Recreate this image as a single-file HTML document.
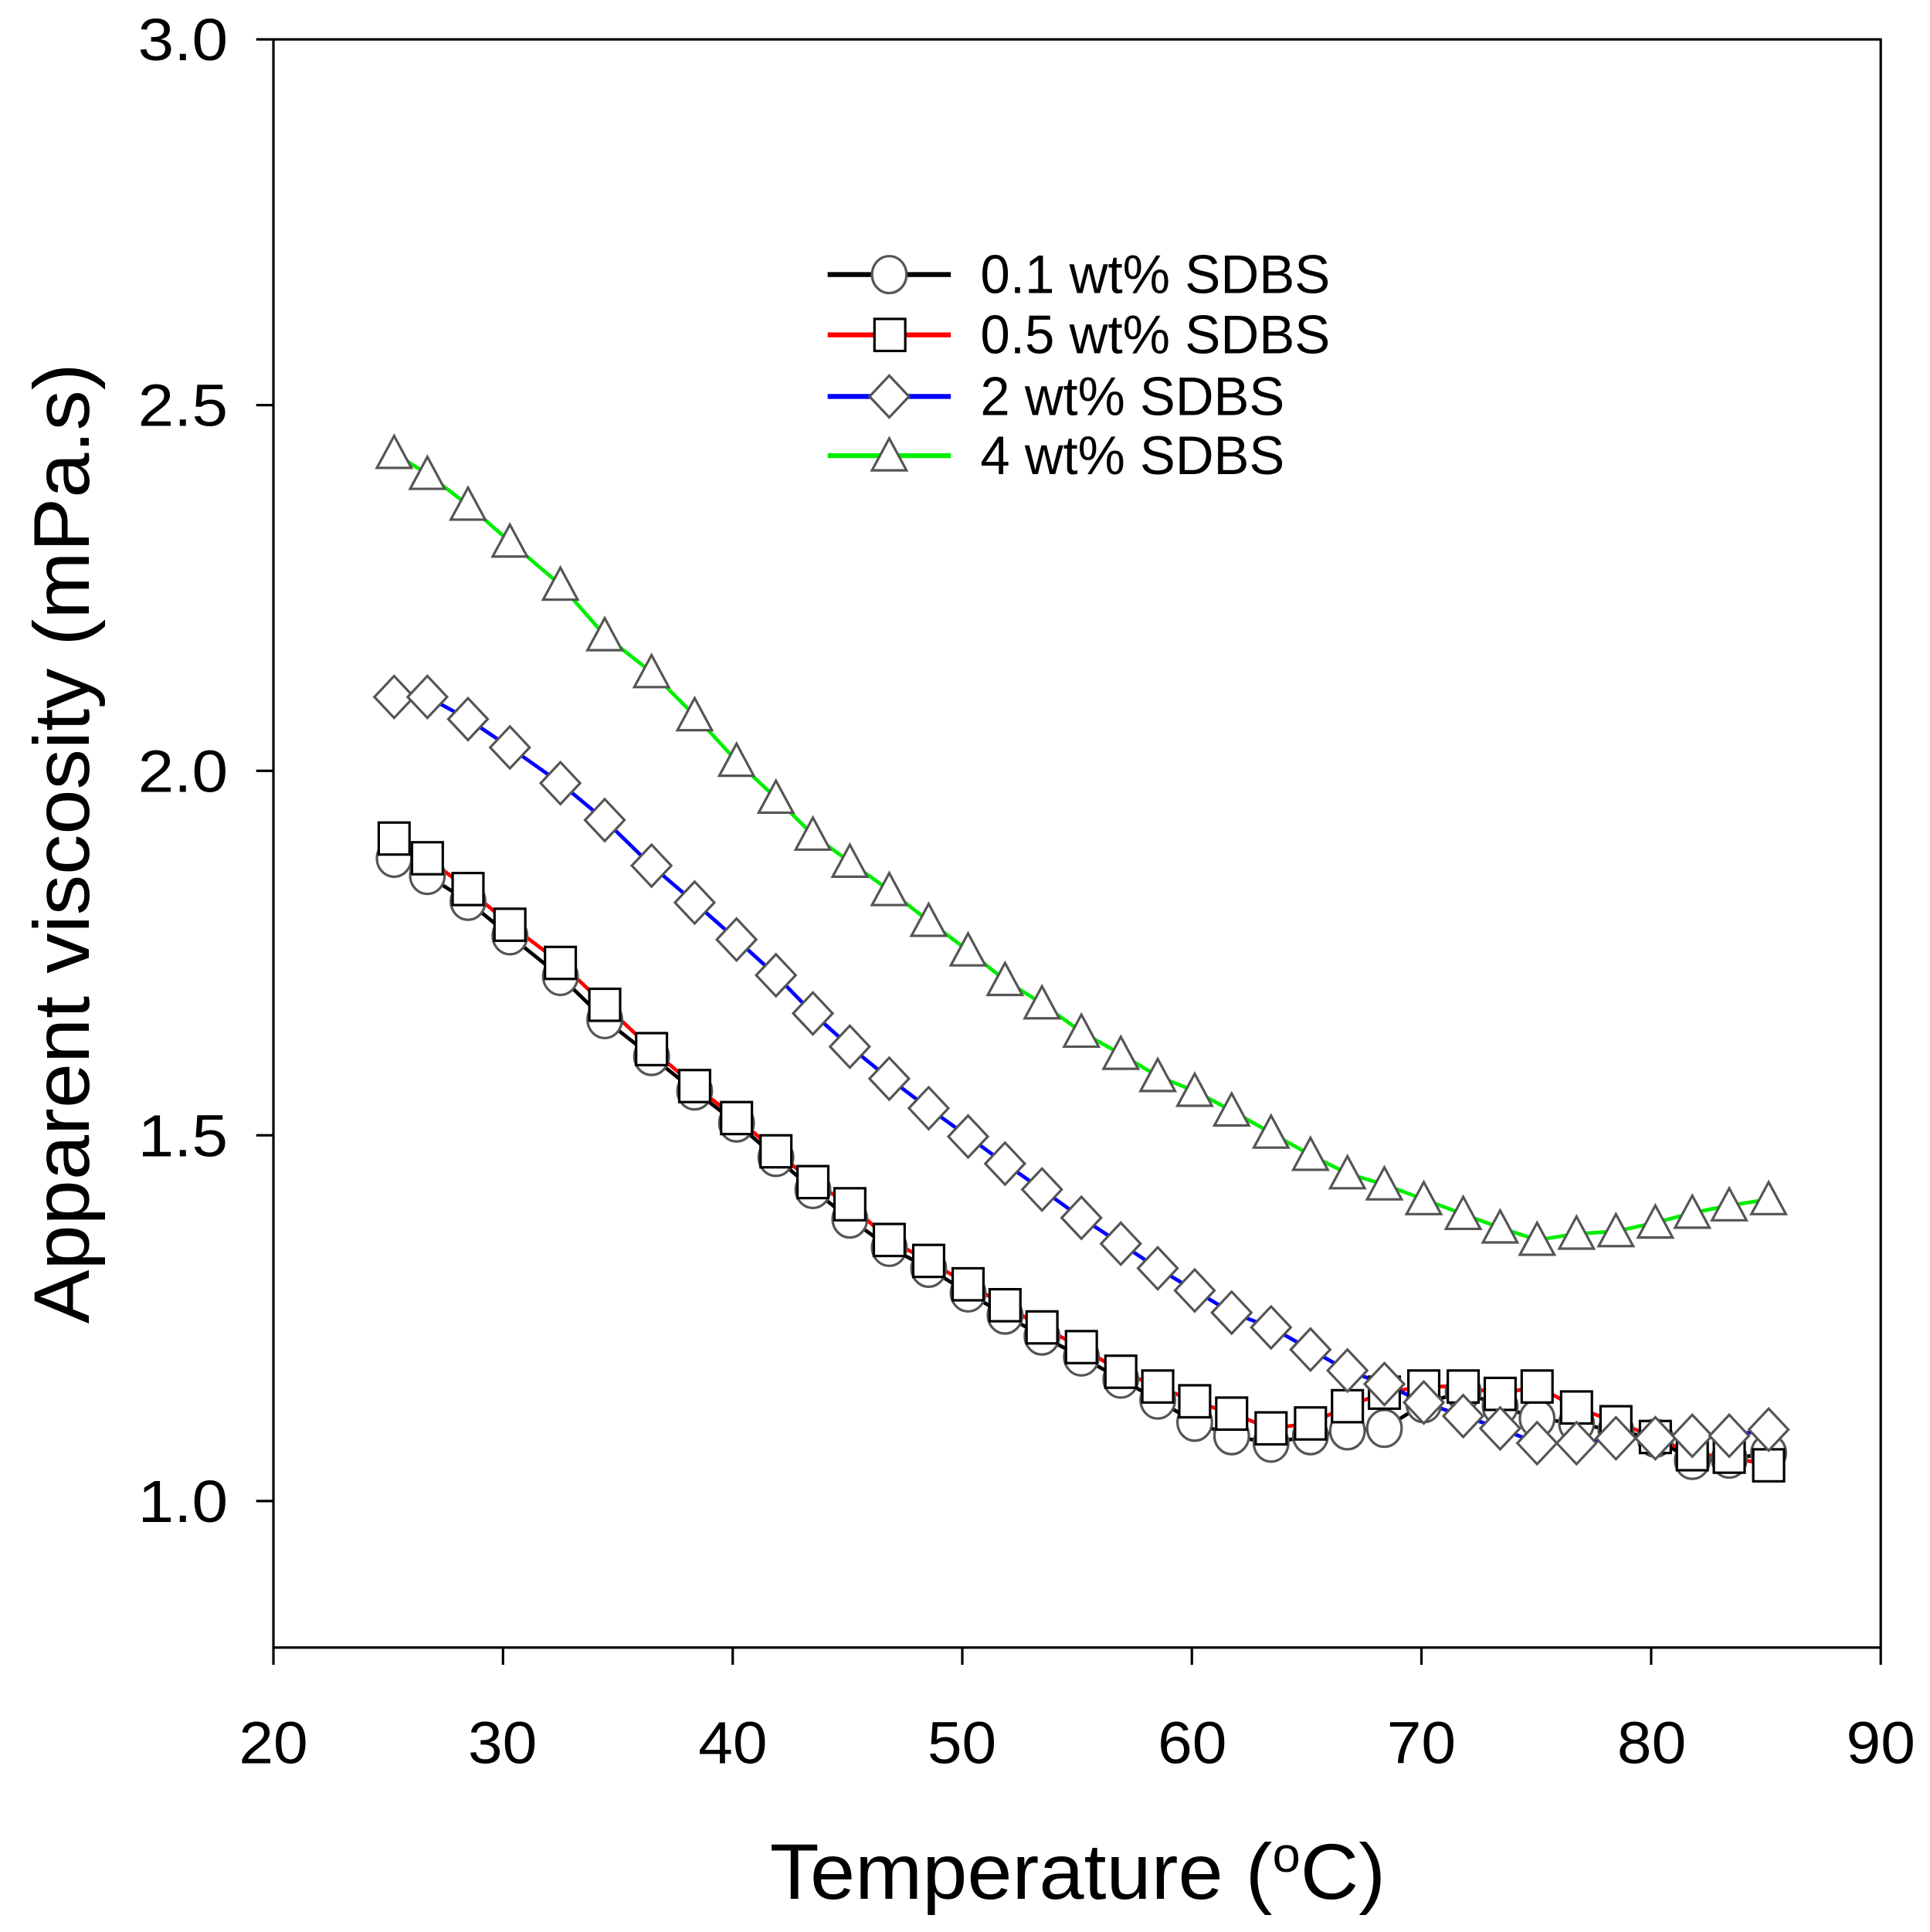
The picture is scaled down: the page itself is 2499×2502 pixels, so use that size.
<!DOCTYPE html>
<html><head><meta charset="utf-8"><style>
html,body{margin:0;padding:0;background:#fff;}
svg{display:block;}
text{font-family:"Liberation Sans",Arial,sans-serif;fill:#000;}
</style></head><body>
<svg id="s" width="2499" height="2502" viewBox="0 0 1567 1569" preserveAspectRatio="none" xmlns="http://www.w3.org/2000/svg">
<rect x="222" y="32" width="1305" height="1306" fill="none" stroke="#000" stroke-width="2"/>
<g stroke="#000" stroke-width="2">
<line x1="222" y1="1338" x2="222" y2="1352"/><line x1="408.4" y1="1338" x2="408.4" y2="1352"/><line x1="594.9" y1="1338" x2="594.9" y2="1352"/><line x1="781.3" y1="1338" x2="781.3" y2="1352"/><line x1="967.7" y1="1338" x2="967.7" y2="1352"/><line x1="1154.1" y1="1338" x2="1154.1" y2="1352"/><line x1="1340.6" y1="1338" x2="1340.6" y2="1352"/><line x1="1527" y1="1338" x2="1527" y2="1352"/>
<line x1="208" y1="32" x2="222" y2="32"/><line x1="208" y1="329" x2="222" y2="329"/><line x1="208" y1="626" x2="222" y2="626"/><line x1="208" y1="922" x2="222" y2="922"/><line x1="208" y1="1219" x2="222" y2="1219"/>
</g>
<g font-size="48" text-anchor="middle">
<text x="222" y="1432" textLength="56" lengthAdjust="spacingAndGlyphs">20</text><text x="408" y="1432" textLength="56" lengthAdjust="spacingAndGlyphs">30</text><text x="595" y="1432" textLength="56" lengthAdjust="spacingAndGlyphs">40</text><text x="781" y="1432" textLength="56" lengthAdjust="spacingAndGlyphs">50</text><text x="968" y="1432" textLength="56" lengthAdjust="spacingAndGlyphs">60</text><text x="1154" y="1432" textLength="56" lengthAdjust="spacingAndGlyphs">70</text><text x="1341" y="1432" textLength="56" lengthAdjust="spacingAndGlyphs">80</text><text x="1527" y="1432" textLength="56" lengthAdjust="spacingAndGlyphs">90</text>
</g>
<g font-size="48">
<text x="112" y="49" textLength="73" lengthAdjust="spacingAndGlyphs">3.0</text><text x="112" y="346" textLength="73" lengthAdjust="spacingAndGlyphs">2.5</text><text x="112" y="643" textLength="73" lengthAdjust="spacingAndGlyphs">2.0</text><text x="112" y="939" textLength="73" lengthAdjust="spacingAndGlyphs">1.5</text><text x="112" y="1236" textLength="73" lengthAdjust="spacingAndGlyphs">1.0</text>
</g>
<text x="625" y="1542" font-size="64" textLength="500" lengthAdjust="spacingAndGlyphs">Temperature (<tspan font-size="40" dy="-22">o</tspan><tspan dy="22">C)</tspan></text>
<text transform="translate(72,1075) rotate(-90)" font-size="64" textLength="780" lengthAdjust="spacingAndGlyphs">Apparent viscosity (mPa.s)</text>
<g id="plot"></g>
<g font-size="44">
<line x1="672" y1="223" x2="772" y2="223" stroke="#000" stroke-width="4"/><ellipse cx="722" cy="223" rx="14" ry="15" fill="#fff" stroke="#555" stroke-width="2"/><text x="796" y="238" textLength="284" lengthAdjust="spacingAndGlyphs">0.1 wt% SDBS</text>
<line x1="672" y1="272" x2="772" y2="272" stroke="#f00" stroke-width="4"/><rect x="710" y="259" width="25" height="26" fill="#fff" stroke="#000" stroke-width="2"/><text x="796" y="287" textLength="284" lengthAdjust="spacingAndGlyphs">0.5 wt% SDBS</text>
<line x1="672" y1="322" x2="772" y2="322" stroke="#00f" stroke-width="4"/><polygon points="722,305 738,322 722,339 706,322" fill="#fff" stroke="#555" stroke-width="2"/><text x="796" y="337" textLength="247" lengthAdjust="spacingAndGlyphs">2 wt% SDBS</text>
<line x1="672" y1="370" x2="772" y2="370" stroke="#0e0" stroke-width="4"/><polygon points="722,356 736,382 708,382" fill="#fff" stroke="#555" stroke-width="2"/><text x="796" y="385" textLength="247" lengthAdjust="spacingAndGlyphs">4 wt% SDBS</text>
</g>
</svg>
<script>
var X=[320,347,380,414,455,491,529,564,598,630,660,690,722,754,786,816,846,878,910,940,970,1000,1032,1064,1094,1124,1156,1188,1218,1248,1280,1312,1344,1374,1404,1436];
var tri=[368,385,410,440,475,516,546,581,618,648,678,700,723,748,772,796,815,838,856,874,886,902,920,938,953,962,974,986,997,1007,1002,1000,993,985,979,974];
var dia=[566,566,584,607,636,666,703,733,763,792,823,850,876,900,923,945,966,989,1010,1030,1048,1066,1078,1096,1113,1124,1139,1150,1160,1172,1172,1168,1168,1166,1166,1161];
var sq=[681,697,722,751,782,816,852,882,908,935,960,978,1007,1024,1043,1060,1078,1094,1114,1126,1138,1148,1160,1156,1142,1131,1126,1126,1132,1126,1143,1155,1167,1181,1183,1190];
var ci=[697,711,732,760,793,828,858,886,912,940,966,990,1013,1030,1050,1068,1085,1102,1120,1137,1155,1166,1172,1166,1162,1160,1140,1130,1142,1152,1156,1162,1168,1186,1185,1180];
var g=document.getElementById('plot'),h='';
function line(ys,c){var p=X.map(function(x,i){return x+','+ys[i]}).join(' ');h+='<polyline points="'+p+'" fill="none" stroke="'+c+'" stroke-width="3"/>';}
line(ci,'#000');line(sq,'#f00');line(dia,'#00f');line(tri,'#0e0');
X.forEach(function(x,i){h+='<ellipse cx="'+x+'" cy="'+ci[i]+'" rx="14" ry="15" fill="#fff" stroke="#555" stroke-width="2"/>';});
X.forEach(function(x,i){h+='<rect x="'+(x-12.5)+'" y="'+(sq[i]-13)+'" width="25" height="26" fill="#fff" stroke="#000" stroke-width="2"/>';});
X.forEach(function(x,i){var y=dia[i];h+='<polygon points="'+x+','+(y-17)+' '+(x+16)+','+y+' '+x+','+(y+17)+' '+(x-16)+','+y+'" fill="#fff" stroke="#555" stroke-width="2"/>';});
X.forEach(function(x,i){var y=tri[i];h+='<polygon points="'+x+','+(y-14)+' '+(x+14)+','+(y+12)+' '+(x-14)+','+(y+12)+'" fill="#fff" stroke="#555" stroke-width="2"/>';});
g.innerHTML=h;
</script>
</body></html>
